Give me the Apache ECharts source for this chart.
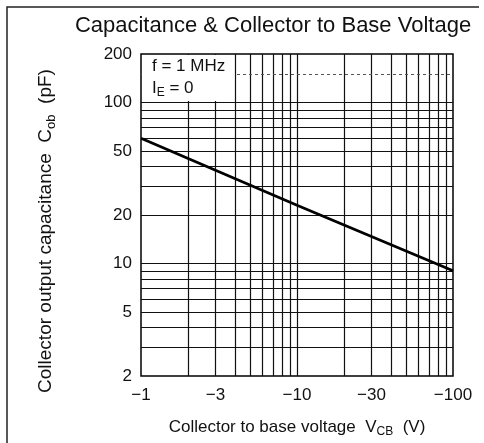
<!DOCTYPE html>
<html>
<head>
    <meta charset="utf-8">
    <title>Capacitance & Collector to Base Voltage</title>
    <script src="https://cdn.jsdelivr.net/npm/echarts@6/dist/echarts.min.js"></script>
    <style>
        html, body { margin: 0; padding: 0; background: #fff; }
        #main { width: 484px; height: 443px; }
    </style>
</head>
<body>
<div id="main"></div>
<script type="text/javascript">
    // curve (V_CB shown as negative on the axis)
    var vcb = [1, 10, 100];
    var cob = [60, 23, 9];

    // tick labels
    var xTickVals = [1, 3, 10, 30, 100];
    var yTickVals = [2, 5, 10, 20, 50, 100, 200];

    // grid lines of the log paper
    var xGridVals = [2, 3, 4, 5, 6, 7, 8, 9, 10, 20, 30, 40, 50, 60, 70, 80, 90];
    var yGridVals = [3, 4, 5, 6, 7, 8, 9, 10, 20, 30, 40, 50, 60, 70, 80, 90, 100];
    var yDashVals = [150];

    var font = '"Liberation Sans", Arial, sans-serif';
    var myChart = echarts.init(document.getElementById('main'));

    var gridLines = [];
    xGridVals.forEach(function (v) { gridLines.push({ xAxis: v }); });
    yGridVals.forEach(function (v) { gridLines.push({ yAxis: v }); });
    var dashLines = yDashVals.map(function (v) { return { yAxis: v }; });

    var subStyle = { fontFamily: font, fontSize: 12, lineHeight: 13, verticalAlign: 'bottom', color: '#111' };

    var option = {
        animation: false,
        title: {
            text: 'Capacitance & Collector to Base Voltage',
            left: 268,
            textAlign: 'center',
            top: 10,
            textStyle: { fontFamily: font, fontSize: 22, fontWeight: 'normal', color: '#111' }
        },
        grid: {
            left: 141, right: 31, top: 54, bottom: 64,
            show: true, borderColor: '#000', borderWidth: 1.5
        },
        xAxis: {
            type: 'log',
            logBase: 10,
            min: 1,
            max: 100,
            name: 'Collector to base voltage  V{sub|CB}  (V)',
            nameLocation: 'middle',
            nameGap: 40,
            nameTextStyle: {
                fontFamily: font, fontSize: 17, color: '#111', lineHeight: 22,
                rich: { sub: subStyle }
            },
            axisLine: { show: false },
            axisTick: { show: false },
            splitLine: { show: false },
            axisLabel: {
                customValues: xTickVals,
                fontFamily: font, fontSize: 17, color: '#111', margin: 11,
                formatter: function (v) { return '\u2212' + v; }
            }
        },
        yAxis: {
            type: 'log',
            logBase: 10,
            min: 2,
            max: 200,
            axisLine: { show: false },
            axisTick: { show: false },
            splitLine: { show: false },
            axisLabel: {
                customValues: yTickVals,
                fontFamily: font, fontSize: 17, color: '#111', margin: 9
            }
        },
        graphic: [
            {
                type: 'polyline', z: 100,
                shape: { points: [[479, 7], [7, 7], [7, 443]] },
                style: { stroke: '#222', lineWidth: 1.5, fill: null }
            },
            {
                type: 'text', z: 100,
                x: 46, y: 231, rotation: Math.PI / 2,
                style: {
                    text: 'Collector output capacitance  C{sub|ob}  (pF)',
                    align: 'center', verticalAlign: 'middle',
                    font: '19px ' + font, fill: '#111', lineHeight: 24,
                    rich: { sub: { fontFamily: font, fontSize: 13, lineHeight: 14, verticalAlign: 'bottom', fill: '#111' } }
                }
            },
            {
                type: 'rect', z: 100,
                shape: { x: 142, y: 55, width: 92, height: 46 },
                style: { fill: '#fff' }
            },
            {
                type: 'text', z: 101,
                x: 152, y: 55,
                style: {
                    text: 'f = 1 MHz\nI{sub|E} = 0',
                    font: '17px ' + font, fill: '#111', lineHeight: 22,
                    rich: { sub: { fontFamily: font, fontSize: 12, lineHeight: 13, verticalAlign: 'bottom', fill: '#111' } }
                }
            }
        ],
        series: [
            {
                type: 'line',
                data: [],
                silent: true,
                markLine: {
                    silent: true,
                    symbol: 'none',
                    animation: false,
                    label: { show: false },
                    lineStyle: { color: '#111', width: 1.2, type: 'solid' },
                    data: gridLines
                }
            },
            {
                type: 'line',
                data: [],
                silent: true,
                markLine: {
                    silent: true,
                    symbol: 'none',
                    animation: false,
                    label: { show: false },
                    lineStyle: { color: '#555', width: 1, type: [3, 3] },
                    data: dashLines
                }
            },
            {
                type: 'line',
                data: vcb.map(function (v, i) { return [v, cob[i]]; }),
                symbol: 'none',
                lineStyle: { color: '#000', width: 2.8 },
                z: 10
            }
        ]
    };
    myChart.setOption(option);
    window.onresize = myChart.resize;
</script>
</body>
</html>
